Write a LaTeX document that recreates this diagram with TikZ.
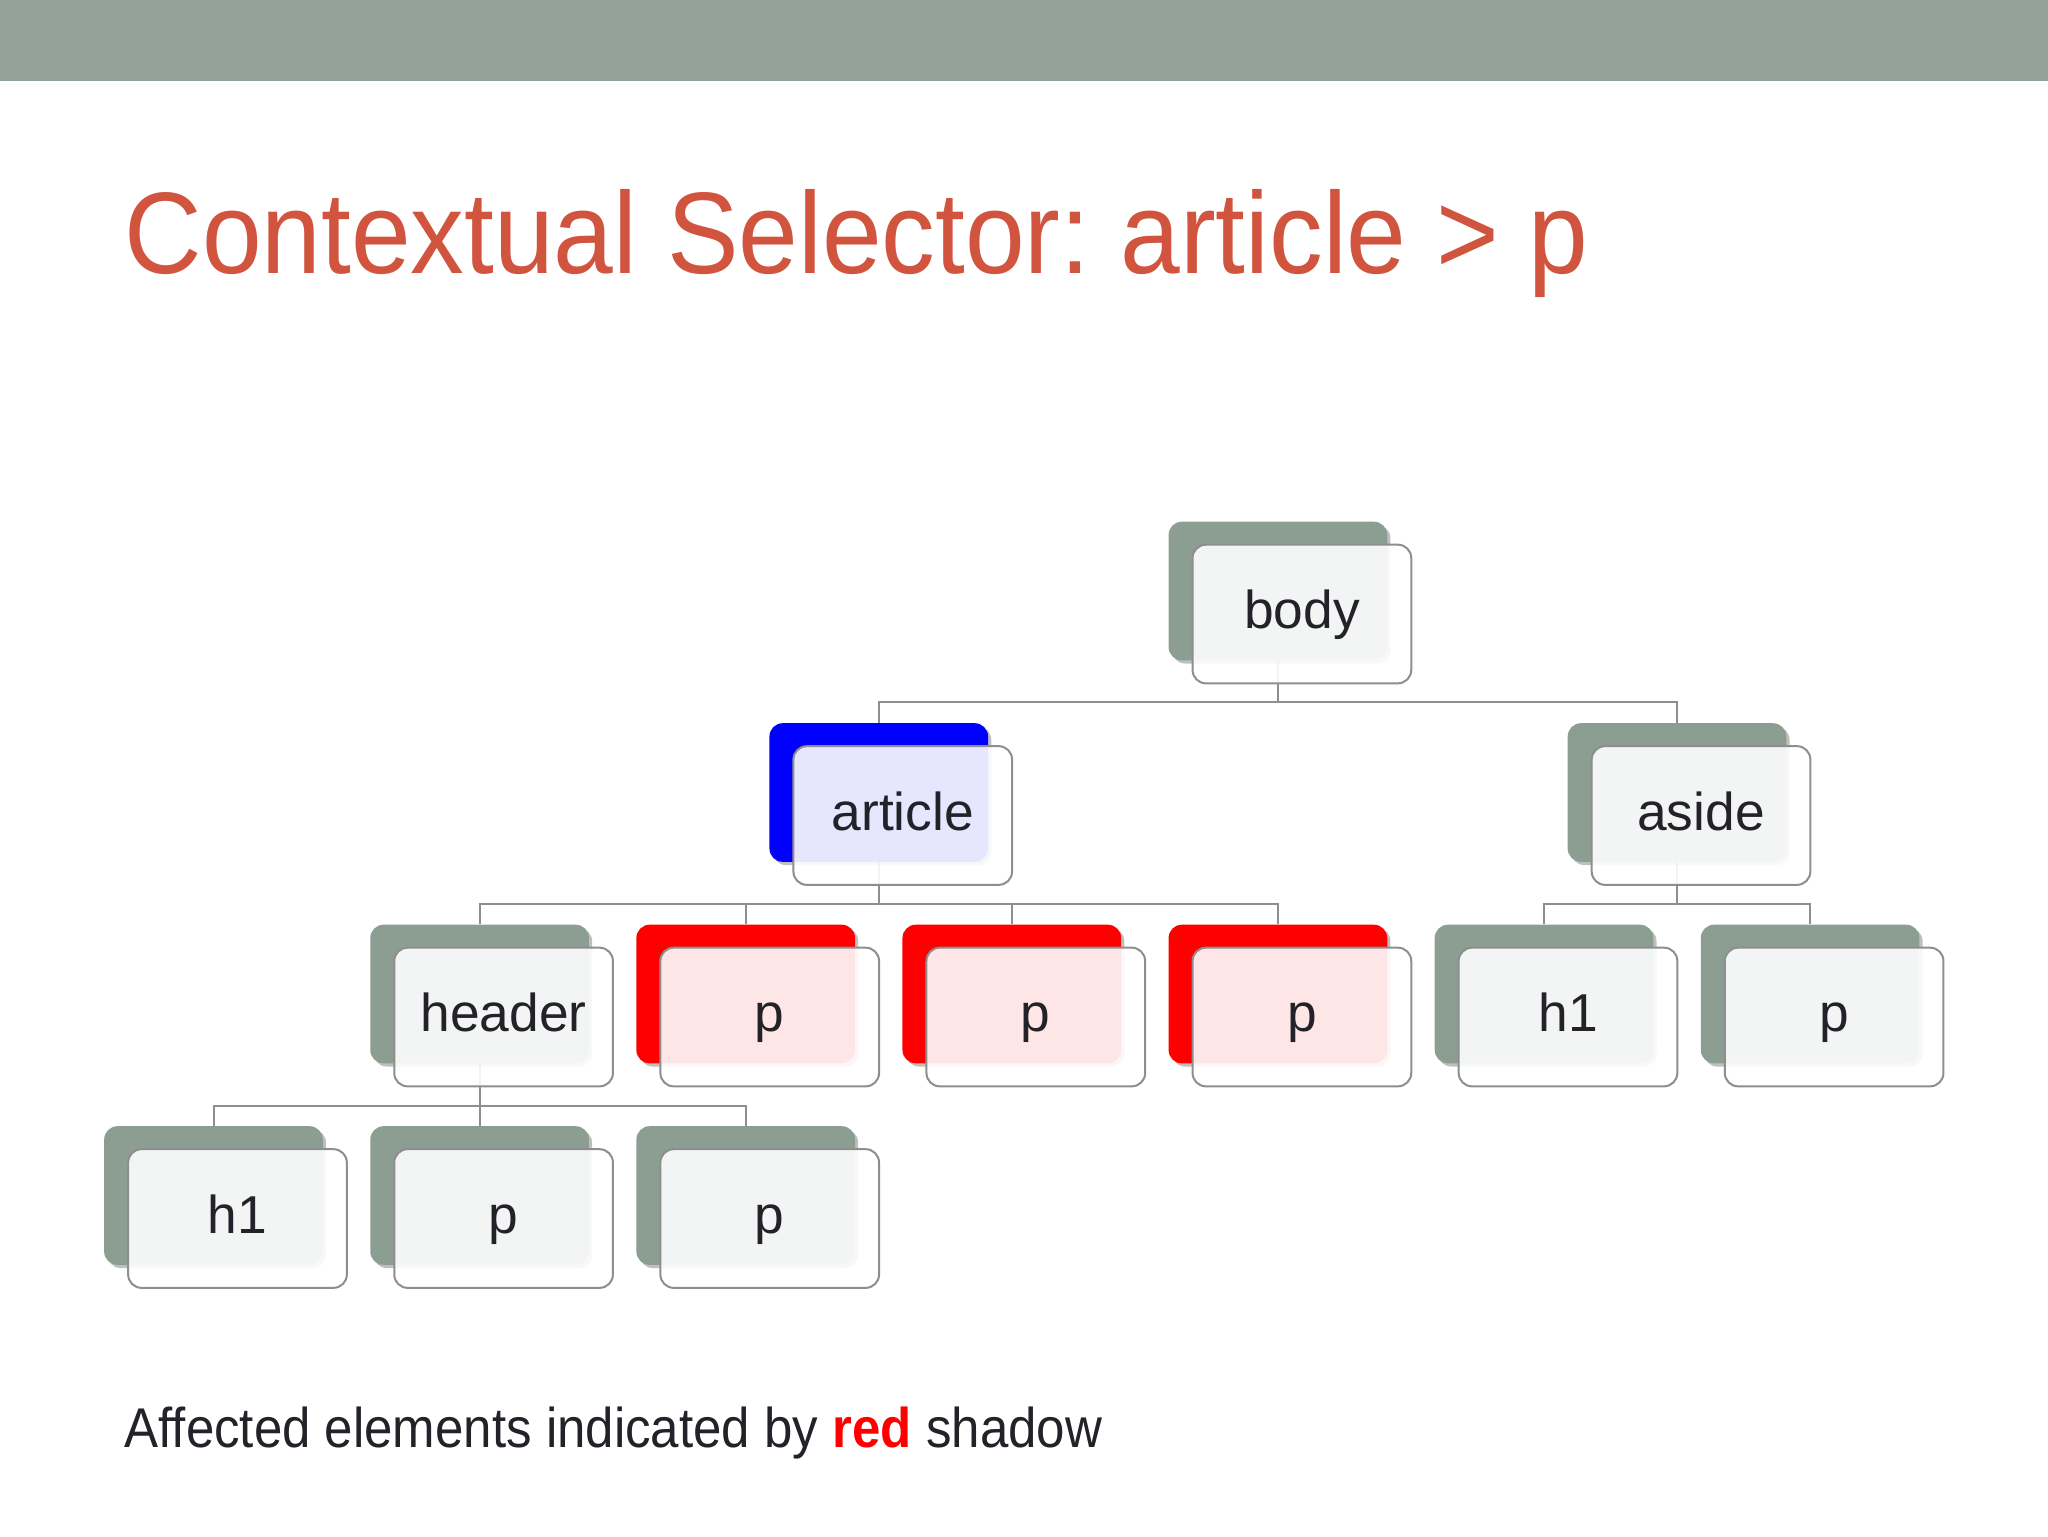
\documentclass[tikz,border=0pt]{standalone}
\usepackage{fontspec}
\setmainfont{Liberation Sans}
\usetikzlibrary{shadows}
\pgfdeclarelayer{background}
\pgfdeclarelayer{canvas}
\pgfsetlayers{canvas,background,main}
\definecolor{barcol}{HTML}{93A29A}
\definecolor{titlecol}{HTML}{D0543E}
\definecolor{shgray}{HTML}{8C9E92}
\definecolor{shred}{HTML}{FF0000}
\definecolor{shblue}{HTML}{0000FF}
\definecolor{linecol}{HTML}{8E8E8E}
\definecolor{txtcol}{HTML}{222228}
\tikzset{
  shadowbox/.style={rectangle, rounded corners=5pt, minimum width=82pt, minimum height=52pt, inner sep=0pt,
    drop shadow={shadow xshift=1.2pt, shadow yshift=-1.2pt, opacity=0.25, fill=black}},
  frontbox/.style={rectangle, rounded corners=5pt, minimum width=82pt, minimum height=52pt, inner sep=0pt,
    draw=linecol, line width=0.75pt, fill=white, fill opacity=0.9, text opacity=1,
    text=txtcol, font=\fontsize{20}{24}\selectfont, text height=11pt, text depth=0pt},
  conn/.style={draw=linecol, line width=0.75pt}
}
\newcommand{\dombox}[5]{%
  \node[shadowbox, fill=#4] (#1) at (#2,#3) {};
  \node[frontbox] (#1f) at ([shift={(24,23)}]#1.center) {#5};
}
\frenchspacing
\begin{document}
\begin{tikzpicture}[x=0.375pt, y=-0.375pt]
\useasboundingbox (0,0) rectangle (2048,1536);
\begin{pgfonlayer}{canvas}
\fill[white] (0,0) rectangle (2048,1536);
\fill[barcol] (0,0) rectangle (2048,81);
\end{pgfonlayer}
\node[anchor=base west, inner sep=0pt, text=titlecol, font=\fontsize{43.5}{50}\selectfont] (title) at (124,273) {\scalebox{0.925}[1]{Contextual Selector: article > p}};
% columns
\def\cA{213.5}\def\cB{479.6}\def\cC{745.7}\def\cD{1011.8}\def\cE{1277.9}\def\cF{1544}\def\cG{1810.1}
\def\rA{591}\def\rB{792.5}\def\rC{994}\def\rD{1195.5}
\dombox{body}{\cE}{\rA}{shgray}{body}
\dombox{article}{878.75}{\rB}{shblue}{article}
\dombox{aside}{1677}{\rB}{shgray}{aside}
\dombox{header}{\cB}{\rC}{shgray}{header}
\dombox{pa}{\cC}{\rC}{shred}{p}
\dombox{pb}{\cD}{\rC}{shred}{p}
\dombox{pc}{\cE}{\rC}{shred}{p}
\dombox{hb}{\cF}{\rC}{shgray}{h1}
\dombox{pd}{\cG}{\rC}{shgray}{p}
\dombox{ha}{\cA}{\rD}{shgray}{h1}
\dombox{pe}{\cB}{\rD}{shgray}{p}
\dombox{pf}{\cC}{\rD}{shgray}{p}
\begin{pgfonlayer}{background}
\draw[conn] (body.south) -- ++(0,41.5) -| (article.north);
\draw[conn] (body.south) -- ++(0,41.5) -| (aside.north);
\foreach \c in {header,pa,pb,pc}{\draw[conn] (article.south) -- ++(0,42) -| (\c.north);}
\foreach \c in {hb,pd}{\draw[conn] (aside.south) -- ++(0,42) -| (\c.north);}
\foreach \c in {ha,pe,pf}{\draw[conn] (header.south) -- ++(0,42) -| (\c.north);}
\end{pgfonlayer}
\node[anchor=base west, inner sep=0pt, text=txtcol, font=\fontsize{21}{25}\selectfont] (note) at (124,1447) {\scalebox{0.911}[1]{Affected elements indicated by \textbf{\textcolor{shred}{red}} shadow}};
\end{tikzpicture}
\end{document}
